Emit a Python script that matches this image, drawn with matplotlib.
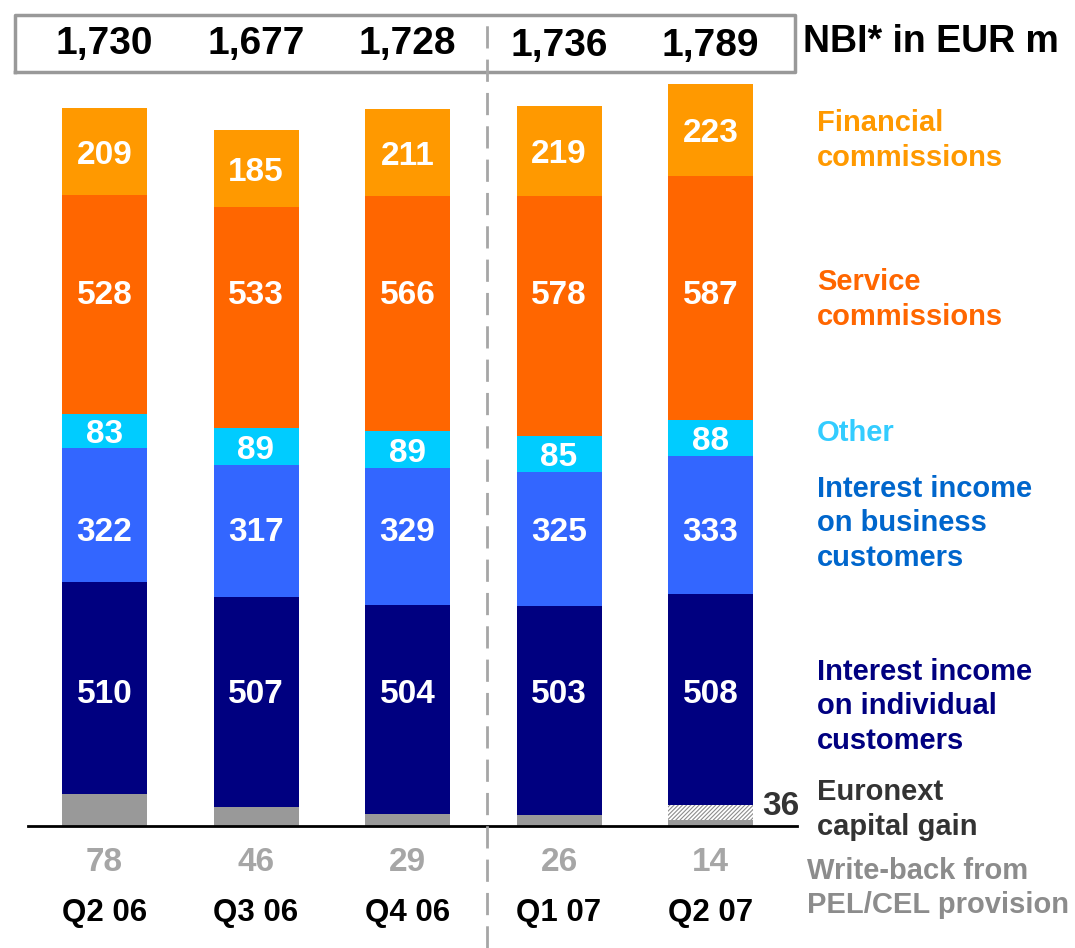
import matplotlib.pyplot as plt
import numpy as np

plt.rcParams['font.family'] = ['Liberation Sans', 'DejaVu Sans']
plt.rcParams['font.weight'] = 'bold'
plt.rcParams['hatch.linewidth'] = 0.8

quarters = ["Q2 06", "Q3 06", "Q4 06", "Q1 07", "Q2 07"]
nbi_totals = ["1,730", "1,677", "1,728", "1,736", "1,789"]
write_back = [78, 46, 29, 26, 14]
euronext = [0, 0, 0, 0, 36]
individual = [510, 507, 504, 503, 508]
business = [322, 317, 329, 325, 333]
other = [83, 89, 89, 85, 88]
service = [528, 533, 566, 578, 587]
financial = [209, 185, 211, 219, 223]

c_gray = '#999999'
c_navy = '#000080'
c_blue = '#3366FF'
c_cyan = '#00CCFF'
c_service = '#FF6600'
c_fin = '#FF9900'

# px scale: 151.5 px per bar slot, 0.415 px per EUR m
sx = 151.5
sy = 0.415
dy = 9  # small downward nudge for centred text

fig = plt.figure(figsize=(10.75, 9.48), dpi=100)
ax = fig.add_axes([0, 0, 1, 1])
ax.set_xlim(-104.5 / sx, (1075 - 104.5) / sx)
ax.set_ylim(-122 / sy, (948 - 122) / sy)
ax.axis('off')

x = np.arange(len(quarters))
w = 85 / sx

bottom = np.zeros(len(x))
ax.bar(x, write_back, w, bottom=bottom, color=c_gray, linewidth=0)
bottom += write_back
ax.bar(x, euronext, w, bottom=bottom, facecolor='white', edgecolor='#8C8C8C',
       hatch='////////', linewidth=0)
bottom += euronext
seg_bottoms = {}
for name, vals, col in [('ind', individual, c_navy), ('bus', business, c_blue),
                        ('oth', other, c_cyan), ('ser', service, c_service),
                        ('fin', financial, c_fin)]:
    ax.bar(x, vals, w, bottom=bottom, color=col, linewidth=0)
    seg_bottoms[name] = bottom.copy()
    bottom += vals

# value labels inside bars
fs_in = 24
for i in range(len(x)):
    ax.text(x[i], 325 - dy, str(individual[i]), color='white', fontsize=fs_in,
            ha='center', va='center', fontweight='bold')
    ax.text(x[i], 716 - dy, str(business[i]), color='white', fontsize=fs_in,
            ha='center', va='center', fontweight='bold')
    ax.text(x[i], seg_bottoms['oth'][i] + other[i] / 2 - dy, str(other[i]), color='white',
            fontsize=fs_in, ha='center', va='center', fontweight='bold')
    ax.text(x[i], 1287 - dy, str(service[i]), color='white', fontsize=fs_in,
            ha='center', va='center', fontweight='bold')
    ax.text(x[i], seg_bottoms['fin'][i] + financial[i] / 2 - dy, str(financial[i]),
            color='white', fontsize=fs_in, ha='center', va='center', fontweight='bold')
    ax.text(x[i], -87, str(write_back[i]), color='#A6A6A6', fontsize=24,
            ha='center', va='center', fontweight='bold')
    ax.text(x[i], -210, quarters[i], color='black', fontsize=22.5,
            ha='center', va='center', fontweight='bold')
    ty = 1884 if i < 3 else 1879
    ax.text(x[i], ty, nbi_totals[i], color='black', fontsize=28,
            ha='center', va='center', fontweight='bold')

ax.text((762 - 104.5) / sx, 46, "36", color='#333333', fontsize=24,
        ha='left', va='center', fontweight='bold')

# baseline
ax.plot([(28 - 104.5) / sx, (797 - 104.5) / sx], [0, 0], color='black', lw=2)

# box around totals
x0, x1 = (15 - 104.5) / sx, (795 - 104.5) / sx
y0, y1 = (826 - 72) / sy, (826 - 15) / sy
ax.plot([x0, x1, x1, x0, x0], [y0, y0, y1, y1, y0], color='#999999', lw=2.5)

# separator between years
xs = (487 - 104.5) / sx
ax.plot([xs, xs], [(826 - 948) / sy, y1], color='#A6A6A6', lw=2,
        linestyle=(0, (8, 4)))

ax.text((803 - 104.5) / sx, 1889, "NBI* in EUR m", color='black', fontsize=27,
        ha='left', va='center', fontweight='bold')

xl = (817 - 104.5) / sx
legend = [
    ("Financial\ncommissions", 1652, '#FF9900'),
    ("Service\ncommissions", 1269, '#FF6600'),
    ("Other", 946, '#33CCFF'),
    ("Interest income\non business\ncustomers", 729, '#0066CC'),
    ("Interest income\non individual\ncustomers", 288, '#000080'),
    ("Euronext\ncapital gain", 40, '#333333'),
]
for txt, yy, col in legend:
    ax.text(xl, yy, txt, color=col, fontsize=21, ha='left', va='center',
            fontweight='bold', linespacing=1.29)
ax.text((807 - 104.5) / sx, -150, "Write-back from\nPEL/CEL provision", color='#8C8C8C',
        fontsize=21, ha='left', va='center', fontweight='bold', linespacing=1.29)

fig.savefig('out.png', dpi=100)
